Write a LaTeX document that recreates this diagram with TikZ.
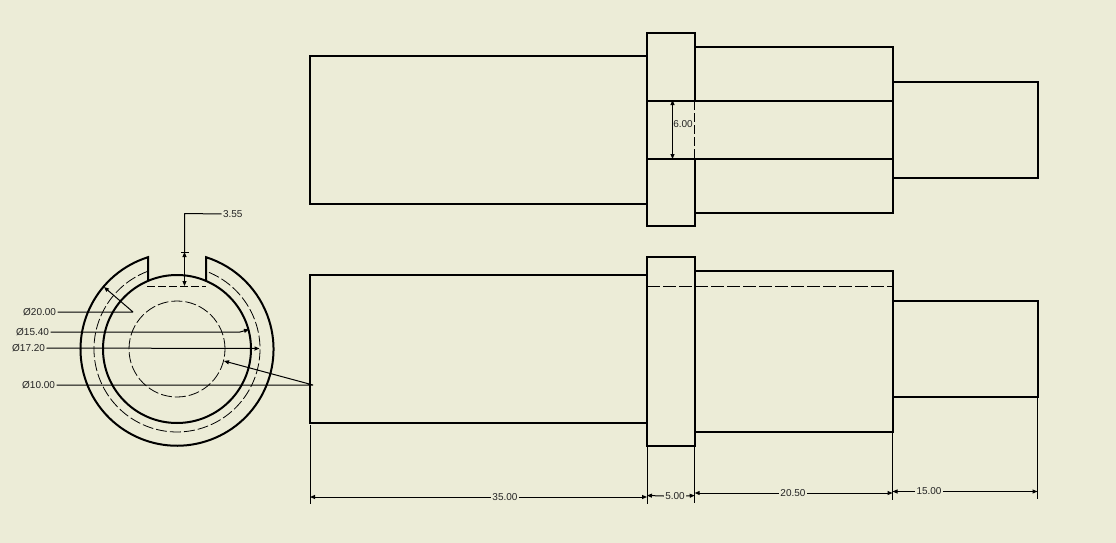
\documentclass[tikz,border=0pt]{standalone}
\usepackage{fontspec}
\setmainfont{Liberation Sans}
\usetikzlibrary{arrows.meta}
\definecolor{paper}{RGB}{236,236,215}
\definecolor{labelink}{RGB}{35,35,35}
\tikzset{
 outline/.style={draw=black,line width=2pt,line join=miter},
 hidden/.style={draw=black,line width=1pt,dash pattern=on 9pt off 3pt},
 dimline/.style={draw=black,line width=1pt,line join=bevel},
 tip/.style={-{Stealth[length=5pt,width=4pt,inset=0pt]}},
 bothtips/.style={{Stealth[length=5pt,width=4pt,inset=0pt]}-{Stealth[length=5pt,width=4pt,inset=0pt]}},
 lab/.style={inner sep=0pt,outer sep=1.5pt,text=labelink,font=\fontsize{10pt}{10pt}\selectfont,fill=none},
}
\begin{document}
\begin{tikzpicture}[x=1pt,y=-1pt]
\path[fill=paper] (0,0) rectangle (1116,543);
\useasboundingbox (0,0) rectangle (1116,543);
% --- top view
\draw[outline] (647,56) -- (310,56) -- (310,204) -- (647,204);
\draw[outline] (695,101) -- (695,33) -- (647,33) -- (647,226) -- (695,226) -- (695,159);
\draw[outline] (695,47) -- (893,47) -- (893,213) -- (695,213);
\draw[outline] (893,82) -- (1038,82) -- (1038,178) -- (893,178);
\draw[outline] (647,101) -- (893,101);
\draw[outline] (647,159) -- (893,159);
\draw[hidden] (694.5,101) -- (694.5,159);
% --- bottom view
\draw[outline] (647,275) -- (310,275) -- (310,423) -- (647,423);
\draw[outline] (647,257) rectangle (695,446);
\draw[outline] (695,271) -- (893,271) -- (893,432) -- (695,432);
\draw[outline] (893,301) -- (1038,301) -- (1038,397) -- (893,397);
\draw[hidden,dash pattern=on 13pt off 3pt] (647,286.5) -- (893,286.5);
% --- end view
\coordinate (c) at (177,349);
\draw[outline] (c) circle[radius=74pt];
\draw[outline] (148,281) -- (148,257.2) arc[start angle=107.5,delta angle=325,radius=96.5pt] -- (206,281);
\draw[hidden,line width=0.8pt,dash pattern=on 11pt off 3pt] (148,271.2) arc[start angle=110.45,delta angle=319.1,radius=83pt];
\draw[hidden,line width=0.8pt,dash pattern=on 11pt off 3pt] (c) circle[radius=48pt];
\draw[hidden,dash pattern=on 8pt off 3pt] (147,286) -- (206,286);
% --- diameter leaders
\node[lab,anchor=east] (d20) at (57.5,312) {Ø20.00};
\node[lab,anchor=east] (d15) at (50.5,332) {Ø15.40};
\node[lab,anchor=east] (d17) at (46.5,348) {Ø17.20};
\node[lab,anchor=east] (d10) at (56.5,385) {Ø10.00};
\coordinate (k20) at (133,312);
\coordinate (t20) at (104,287);
\coordinate (k15) at (240,332);
\coordinate (t15) at (249,329.5);
\coordinate (t17) at (259.5,348.5);
\coordinate (k10) at (313,385);
\coordinate (t10) at (224,361);
\draw[dimline,tip] (d20.east) -- (k20) -- (t20);
\draw[dimline,tip] (d15.east) -- (k15) -- (t15);
\draw[dimline,tip] (d17.east) -- (t17);
\draw[dimline,tip] (d10.east) -- (k10) -- (t10);
% --- slot width
\node[lab,anchor=west] (w) at (221.5,214) {3.55};
\coordinate (e) at (184.5,213.5);
\coordinate (wtop) at (184.5,252);
\coordinate (wbot) at (184.5,286);
\coordinate (wa) at (181,252);
\coordinate (wb) at (189,252);
\draw[dimline] (w.west) -- (e) -- (wtop);
\draw[dimline,bothtips] (wtop) -- (wbot);
\draw[dimline] (wa) -- (wb);
% --- 6.00
\node[lab,anchor=center] (six) at (683,124) {6.00};
\coordinate (sa) at (672.5,100);
\coordinate (sb) at (672.5,159);
\coordinate (sc) at (678,100);
\draw[dimline,bothtips] (sa) -- (sb);
\draw[dimline] (sa) -- (sc);
% --- length dimensions
\coordinate (x0a) at (310,425); \coordinate (x0b) at (310,504);
\coordinate (x1a) at (647,447); \coordinate (x1b) at (647,504);
\coordinate (x2a) at (694.7,447); \coordinate (x2b) at (694.7,503);
\coordinate (x3a) at (892.5,433); \coordinate (x3b) at (892.5,500);
\coordinate (x4a) at (1037.5,398); \coordinate (x4b) at (1037.5,499);
\foreach \a/\b in {x0a/x0b,x1a/x1b,x2a/x2b,x3a/x3b,x4a/x4b} \draw[dimline] (\a) -- (\b);
\node[lab] (l35) at (505,497) {35.00};
\node[lab] (l5) at (675,496) {5.00};
\node[lab] (l20) at (793,493) {20.50};
\node[lab] (l15) at (929,491.5) {15.00};
\draw[dimline,tip] (l35.west) -- (310,497);
\draw[dimline,tip] (l35.east) -- (647,497);
\draw[dimline,tip] (l5.west) -- (647,495.5);
\draw[dimline,tip] (l5.east) -- (694.7,495.5);
\draw[dimline,tip] (l20.west) -- (694.7,493);
\draw[dimline,tip] (l20.east) -- (892.5,493);
\draw[dimline,tip] (l15.west) -- (892.5,491.5);
\draw[dimline,tip] (l15.east) -- (1037.5,491.5);
\end{tikzpicture}
\end{document}
